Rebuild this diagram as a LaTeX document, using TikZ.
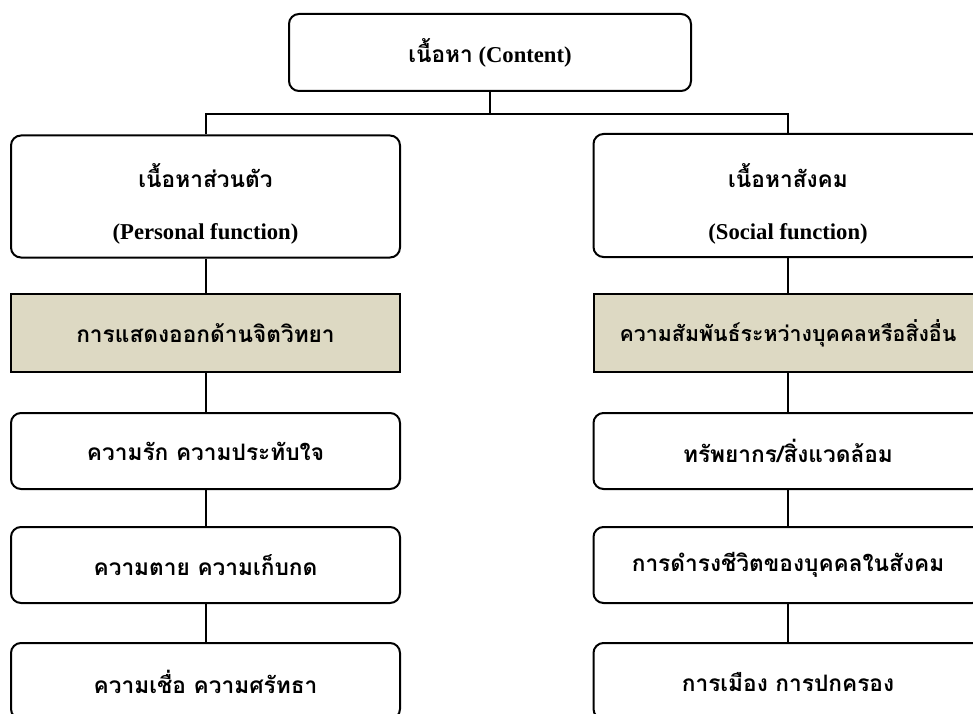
\documentclass[tikz,border=0pt]{standalone}
\usepackage{fontspec}
\setmainfont{Liberation Serif}
\newfontfamily\thaifont[Script=Thai]{Loma}
\newcommand{\thaitext}[1]{{\thaifont #1}}
\definecolor{shade}{HTML}{DDD9C3}
\tikzset{
  txt/.style={align=center, font=\fontsize{17}{20}\selectfont\bfseries, inner sep=0pt},
  base/.style={txt, draw=black, line width=1.5pt, minimum width=291.75pt},
  roundbox/.style={base, rounded corners=7.5pt},
  shadebox/.style={base, fill=shade},
  conn/.style={line width=1.5pt},
}
\begin{document}
\begin{tikzpicture}[x=0.75pt,y=-0.75pt]
\clip (0,0) rectangle (973,713);
\fill[white] (0,0) rectangle (973,713);
% top
\node[roundbox, minimum width=301.5pt, minimum height=57.75pt] (top) at (490,52.5) {\thaitext{เนื้อหา} (Content)};
% left column
\node[roundbox, minimum height=91.5pt] (pers) at (205.5,196.5) {};
\node[txt] (persT) at (205.5,204) {\thaitext{เนื้อหาส่วนตัว}\\[19pt](Personal function)};
\node[shadebox, minimum height=58.5pt] (psy) at (205.5,333) {\thaitext{การแสดงออกด้านจิตวิทยา}};
\node[roundbox, minimum height=57pt] (love) at (205.5,451) {\thaitext{ความรัก ความประทับใจ}};
\node[roundbox, minimum height=57pt] (death) at (205.5,565) {\thaitext{ความตาย ความเก็บกด}};
\node[roundbox, minimum height=57pt, anchor=north] (belief) at (205.5,642) {};
\node[txt] (beliefT) at (205.5,682) {\thaitext{ความเชื่อ ความศรัทธา}};
% right column
\node[roundbox, minimum height=92.25pt] (soc) at (788,195.5) {};
\node[txt] (socT) at (788,204) {\thaitext{เนื้อหาสังคม}\\[19pt](Social function)};
\node[shadebox, minimum height=58.5pt] (rel) at (788,333) {\fontsize{16}{19}\selectfont\thaitext{ความสัมพันธ์ระหว่างบุคคลหรือสิ่งอื่น}};
\node[roundbox, minimum height=57pt] (res) at (788,451) {\thaitext{ทรัพยากร/สิ่งแวดล้อม}};
\node[roundbox, minimum height=57pt] (life) at (788,565) {\thaitext{การดำรงชีวิตของบุคคลในสังคม}};
\node[roundbox, minimum height=57pt, anchor=north] (pol) at (788,642) {};
\node[txt] (polT) at (788,682) {\thaitext{การเมือง การปกครอง}};
% connectors
\coordinate (j) at (490,114);
\draw[conn] (top.south) -- (j);
\draw[conn] (pers.north) |- (j) -| (soc.north);
\draw[conn] (pers) -- (psy);
\draw[conn] (psy) -- (love);
\draw[conn] (love) -- (death);
\draw[conn] (death) -- (belief);
\draw[conn] (soc) -- (rel);
\draw[conn] (rel) -- (res);
\draw[conn] (res) -- (life);
\draw[conn] (life) -- (pol);
\end{tikzpicture}
\end{document}
